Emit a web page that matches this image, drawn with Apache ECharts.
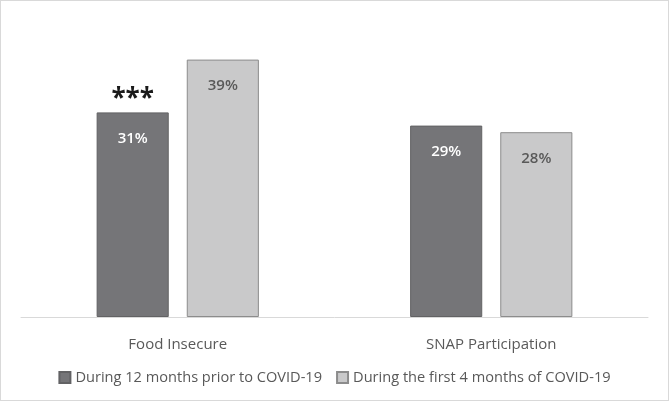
<!DOCTYPE html>
<html><head><meta charset="utf-8">
<script src="https://cdn.jsdelivr.net/npm/echarts@6/dist/echarts.min.js"></script>
<style>html,body{margin:0;padding:0;background:#fff}#c{width:669px;height:401px;box-sizing:border-box;border:1px solid #d9d9d9}</style>
</head><body><div id="c"></div>
<script>
const categories = ['Food Insecure', 'SNAP Participation'];
const seriesNames = ['During 12 months prior to COVID-19', 'During the first 4 months of COVID-19'];
const priorValues = [31, 29];
const duringValues = [39, 28];
const significance = [{ category: 'Food Insecure', value: 31, mark: '***' }];

const FONT = '"Open Sans", sans-serif';
const chart = echarts.init(document.getElementById('c'), null, { renderer: 'canvas' });
chart.setOption({
  animation: false,
  textStyle: { fontFamily: FONT },
  grid: { left: 20, right: 20, top: 52, bottom: 83, containLabel: false },
  legend: {
    bottom: 10, left: 'center', itemWidth: 11, itemHeight: 11, itemGap: 14, icon: 'rect',
    textStyle: { color: '#595959', fontSize: 14.6, fontFamily: FONT },
    data: seriesNames
  },
  xAxis: {
    type: 'category', data: categories,
    axisLine: { lineStyle: { color: '#d9d9d9', width: 1 } },
    axisTick: { show: false },
    axisLabel: { color: '#595959', fontSize: 15, margin: 20, fontFamily: FONT }
  },
  yAxis: { type: 'value', min: 0, max: 40, show: false, splitLine: { show: false } },
  series: [
    {
      name: seriesNames[0], type: 'bar', data: priorValues, barWidth: '23%', barGap: '25%',
      itemStyle: { color: '#757578', borderColor: '#626264', borderWidth: 1 },
      label: { show: true, position: 'insideTop', distance: 19, formatter: '{c}%', color: '#ffffff', fontSize: 15, fontWeight: 600, fontFamily: FONT },
      markPoint: {
        symbol: 'circle', symbolSize: 0,
        data: significance.map(s => ({ coord: [s.category, s.value], value: s.mark })),
        label: { show: true, position: 'top', distance: 0, formatter: p => p.value, color: '#1a1a1a', fontSize: 26, fontWeight: 'bold', fontFamily: FONT }
      }
    },
    {
      name: seriesNames[1], type: 'bar', data: duringValues, barWidth: '23%',
      itemStyle: { color: '#c9c9ca', borderColor: '#8c8c8c', borderWidth: 1 },
      label: { show: true, position: 'insideTop', distance: 19, formatter: '{c}%', color: '#595959', fontSize: 15, fontWeight: 600, fontFamily: FONT }
    }
  ]
});
</script></body></html>
